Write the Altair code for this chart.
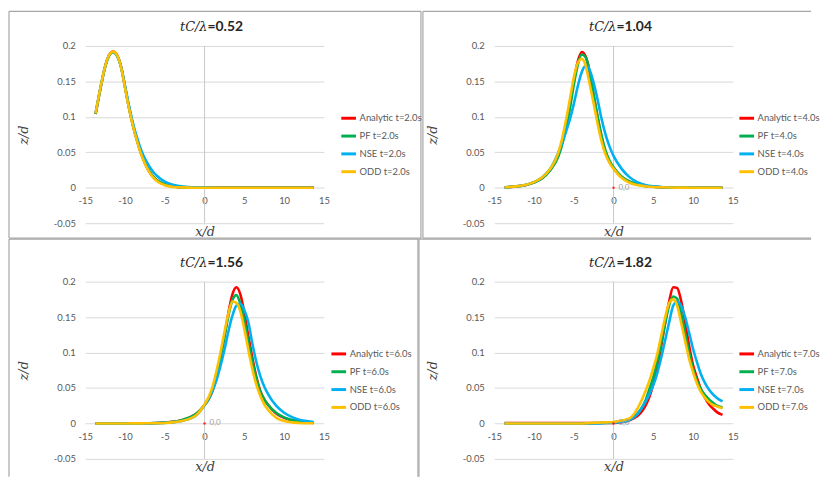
import altair as alt
import pandas as pd

# ---------------- data ----------------
series_names = ["Analytic", "PF", "NSE", "ODD"]
series_colors = ["#FF0000", "#00B050", "#00B0F0", "#FFC000"]
title_symbol = "tC/λ"
panel_ratio = ["=0.52", "=1.04", "=1.56", "=1.82"]
panel_time = ["2.0", "4.0", "6.0", "7.0"]
x_ticks = [-15, -10, -5, 0, 5, 10, 15]
y_ticks = [-0.05, 0, 0.05, 0.1, 0.15, 0.2]
origin_text = "0,0"
origin_shown = [False, True, True, True]

# panel 1 (t = 2.0 s)
x_p1 = [-13.7, -13.5, -13, -12.5, -12, -11.5, -11, -10.5, -10, -9.5, -9, -8.5, -8, -7.5, -7,
        -6.5, -6, -5, -4, -3, -2, -1, 0, 2, 4, 6, 8, 10, 12, 13.7]
an_p1 = [0.104, 0.116, 0.145, 0.171, 0.187, 0.192, 0.187, 0.171, 0.142, 0.113, 0.088, 0.067, 0.049, 0.035, 0.024,
         0.016, 0.0105, 0.0045, 0.0018, 0.0008, 0.0004, 0.0002, 0.0001, 0.0005, 0.0005, 0.0005, 0.0005, 0.0005, 0.0005, 0.0005]
pf_p1 = [0.104, 0.116, 0.145, 0.170, 0.186, 0.191, 0.186, 0.170, 0.142, 0.113, 0.088, 0.067, 0.049, 0.035, 0.024,
         0.016, 0.0105, 0.0045, 0.0018, 0.0008, 0.0004, 0.0002, 0.0001, 0, 0, 0, 0, 0, 0, 0]
nse_p1 = [0.105, 0.117, 0.146, 0.171, 0.187, 0.191, 0.186, 0.171, 0.144, 0.116, 0.091, 0.071, 0.054, 0.041, 0.031,
          0.023, 0.017, 0.0085, 0.0042, 0.002, 0.001, 0.0005, 0.0002, 0.0001, 0, 0, 0, 0, 0, 0]
odd_p1 = [0.105, 0.117, 0.146, 0.171, 0.187, 0.192, 0.187, 0.170, 0.141, 0.112, 0.087, 0.066, 0.048, 0.034, 0.023,
          0.015, 0.0095, 0.0035, 0.0012, 0.0005, 0.0002, 0.0001, 0, 0, 0, 0, 0, 0, 0, 0]

# panel 2 (t = 4.0 s)
x_p2 = [-13.7, -12, -11, -10, -9, -8, -7, -6.5, -6, -5.5, -5, -4.5, -4, -3.5, -3, -2.5, -2, -1.5, -1, -0.5,
        0, 1, 2, 3, 4, 5, 6, 8, 10, 12, 13.7]
an_p2 = [0.0007, 0.0021, 0.004, 0.0075, 0.0135, 0.0248, 0.044, 0.062, 0.087, 0.116, 0.150, 0.178, 0.1915, 0.185,
         0.163, 0.130, 0.099, 0.071, 0.050, 0.036, 0.0276, 0.015, 0.0084, 0.0046, 0.0024, 0.0013, 0.0007, 0.0002,
         0.0001, 0, 0]
pf_p2 = [0.0007, 0.002, 0.0039, 0.0073, 0.013, 0.024, 0.0425, 0.059, 0.083, 0.111, 0.145, 0.173, 0.188, 0.184,
         0.164, 0.131, 0.100, 0.073, 0.052, 0.038, 0.029, 0.016, 0.009, 0.005, 0.0026, 0.0014, 0.0008, 0.0002,
         0.0001, 0, 0]
nse_p2 = [0.0008, 0.0023, 0.0044, 0.008, 0.0143, 0.026, 0.048, 0.062, 0.078, 0.096, 0.118, 0.143, 0.163, 0.172,
          0.166, 0.148, 0.124, 0.097, 0.075, 0.058, 0.045, 0.027, 0.015, 0.008, 0.004, 0.002, 0.001, 0.0003,
          0.0001, 0, 0]
odd_p2 = [0.0008, 0.0023, 0.0044, 0.008, 0.0143, 0.026, 0.0475, 0.0675, 0.094, 0.124, 0.155, 0.176, 0.182, 0.172,
          0.146, 0.119, 0.090, 0.065, 0.047, 0.035, 0.027, 0.014, 0.0071, 0.0038, 0.002, 0.001, 0.0006, 0.0002,
          0.0001, 0, 0]

# panel 3 (t = 6.0 s)
x_p3 = [-13.7, -12, -10, -8, -6, -5, -4, -3, -2, -1, 0, 0.5, 1, 1.5, 2, 2.5, 3, 3.5, 4, 4.5, 5, 5.5, 6, 6.5,
        7, 7.5, 8, 9, 10, 11, 12, 13, 13.7]
an_p3 = [0, 0, 0.0001, 0.0002, 0.0006, 0.0012, 0.0022, 0.0042, 0.0078, 0.014, 0.026, 0.034, 0.046, 0.066, 0.093,
         0.123, 0.156, 0.182, 0.192, 0.182, 0.156, 0.123, 0.093, 0.066, 0.046, 0.034, 0.026, 0.014, 0.0078,
         0.0042, 0.0022, 0.0012, 0.0008]
pf_p3 = [0, 0, 0.0001, 0.0002, 0.0006, 0.0012, 0.0023, 0.0043, 0.008, 0.014, 0.026, 0.034, 0.047, 0.067, 0.094,
         0.123, 0.152, 0.174, 0.181, 0.169, 0.145, 0.115, 0.088, 0.064, 0.045, 0.034, 0.026, 0.015, 0.0085,
         0.0047, 0.0026, 0.0015, 0.001]
nse_p3 = [0, 0, 0, 0.0001, 0.0004, 0.0008, 0.0015, 0.003, 0.006, 0.012, 0.026, 0.035, 0.046, 0.061, 0.081,
          0.104, 0.130, 0.152, 0.166, 0.169, 0.160, 0.143, 0.113, 0.087, 0.067, 0.052, 0.041, 0.025, 0.015,
          0.009, 0.005, 0.003, 0.002]
odd_p3 = [0, 0, 0, 0.0001, 0.0003, 0.0007, 0.0015, 0.003, 0.006, 0.012, 0.027, 0.037, 0.052, 0.074, 0.100,
          0.129, 0.155, 0.172, 0.170, 0.158, 0.133, 0.104, 0.077, 0.055, 0.039, 0.027, 0.019, 0.008, 0.0035,
          0.0015, 0.0007, 0.0003, 0.0002]

# panel 4 (t = 7.0 s)
x_p4 = [-13.7, -12, -10, -8, -6, -4, -3, -2, -1, 0, 1, 2, 3, 3.5, 4, 4.5, 5, 5.5, 6, 6.5, 7, 7.5, 8, 8.5, 9,
        9.5, 10, 10.5, 11, 11.5, 12, 12.5, 13, 13.7]
an_p4 = [0.0005, 0.0005, 0.0005, 0.0005, 0.0005, 0.0005, 0.0005, 0.0005, 0.0005, 0.0007, 0.0018, 0.0043, 0.0104,
         0.0161, 0.0247, 0.0371, 0.0553, 0.0796, 0.1096, 0.1428, 0.1726, 0.192, 0.191, 0.1726, 0.1428, 0.1096,
         0.082, 0.064, 0.048, 0.036, 0.027, 0.021, 0.016, 0.012]
pf_p4 = [0, 0, 0, 0, 0, 0, 0.0003, 0.0006, 0.001, 0.0015, 0.003, 0.006, 0.014, 0.021, 0.032, 0.048, 0.065, 0.087,
         0.113, 0.142, 0.167, 0.179, 0.176, 0.155, 0.127, 0.100, 0.077, 0.060, 0.048, 0.040, 0.034, 0.029, 0.025,
         0.0225]
nse_p4 = [0, 0, 0, 0, 0, 0, 0, 0, 0.0005, 0.001, 0.002, 0.005, 0.013, 0.021, 0.030, 0.041, 0.054, 0.071, 0.093,
          0.118, 0.143, 0.166, 0.172, 0.166, 0.150, 0.128, 0.105, 0.086, 0.069, 0.057, 0.048, 0.041, 0.036, 0.031]
odd_p4 = [0, 0, 0, 0, 0, 0, 0.0005, 0.001, 0.0015, 0.002, 0.004, 0.007, 0.021, 0.032, 0.045, 0.060, 0.078, 0.098,
          0.124, 0.150, 0.170, 0.175, 0.166, 0.142, 0.116, 0.091, 0.072, 0.056, 0.044, 0.036, 0.030, 0.026, 0.024,
          0.0215]

panel_x = [x_p1, x_p2, x_p3, x_p4]
panel_y = [
    [an_p1, pf_p1, nse_p1, odd_p1],
    [an_p2, pf_p2, nse_p2, odd_p2],
    [an_p3, pf_p3, nse_p3, odd_p3],
    [an_p4, pf_p4, nse_p4, odd_p4],
]

# ---------------- layout (pixels, relative to each plot area) ----------------
W, H = 241, 179
legend_dx = [16, 5, 6, 5]
# panel frame edges: (x1, y1, x2, y2) segments
frame_segments = [
    [(-77, -35, 339, -35), (-77, -35, -77, 194), (339, -35, 339, 194), (-77, 194, 339, 194)],
    [(-72, -35, 320, -35), (-72, -35, -72, 194), (-72, 194, 320, 194)],
    [(-77, -43, 336, -43), (-77, -43, -77, 197), (336, -43, 336, 197)],
    [(-76, -43, 320, -43), (-76, -43, -76, 197)],
]
SANS = "Lato"
SERIF = "DejaVu Serif"
GRID = "#d9d9d9"
TEXT = "#595959"
FRAME = "#a6a6a6"
HYPHEN_LABEL = "replace(format(datum.value, '.2~f'), '\u2212', '-')"


def make_panel(i):
    t = panel_time[i]
    labels = [f"{s} t={t}s" for s in series_names]
    rows = []
    for lab, vals in zip(labels, panel_y[i]):
        for xv, yv in zip(panel_x[i], vals):
            rows.append({"x": xv, "y": yv, "series": lab})
    df = pd.DataFrame(rows)

    xscale = alt.Scale(domain=[-15, 15], nice=False, zero=False)
    yscale = alt.Scale(domain=[-0.05, 0.2], nice=False, zero=False)
    lift = H * 0.05 / 0.25  # distance of y=0 above the plot bottom

    xaxis = alt.Axis(values=x_ticks, grid=False, domain=False, ticks=False, offset=-lift,
                     labelPadding=8, labelFlush=False, labelOverlap=False, labelExpr=HYPHEN_LABEL,
                     title="x/d", titleFont=SERIF, titleFontStyle="italic", titleFontWeight="normal",
                     titleFontSize=13, titleColor="#404040", titleY=lift + 8, titleBaseline="middle")
    yaxis = alt.Axis(values=y_ticks, grid=True, domain=False, ticks=False, labelPadding=10,
                     labelExpr=HYPHEN_LABEL,
                     title="z/d", titleFont=SERIF, titleFontStyle="italic", titleFontWeight="normal",
                     titleFontSize=13, titleColor="#404040", titleX=-62, titleY=H / 2,
                     titleAngle=270, titleAlign="center", titleBaseline="middle")

    X = alt.X("x:Q", scale=xscale, axis=xaxis)
    Y = alt.Y("y:Q", scale=yscale, axis=yaxis)
    color = alt.Color(
        "series:N",
        scale=alt.Scale(domain=labels, range=series_colors),
        legend=alt.Legend(title=None, orient="none", legendX=W + legend_dx[i], legendY=64,
                          symbolType="stroke", symbolSize=220, symbolStrokeWidth=3,
                          labelFont=SANS, labelFontSize=9.5, labelColor=TEXT, rowPadding=3,
                          labelOffset=2),
    )

    layers = []
    fdf = pd.DataFrame({"f": [1]})
    for (a, b, c, d) in frame_segments[i]:
        layers.append(alt.Chart(fdf).mark_rule(color=FRAME, strokeWidth=1.2)
                      .encode(x=alt.value(a), y=alt.value(b), x2=alt.value(c), y2=alt.value(d)))

    zero_rule = alt.Chart(pd.DataFrame({"x": [0]})).mark_rule(color="#c8c8c8", strokeWidth=1).encode(
        x=alt.X("x:Q", scale=xscale, axis=xaxis))
    layers.append(zero_rule)

    for lab in labels:
        layers.append(
            alt.Chart(df).transform_filter(alt.datum.series == lab)
            .mark_line(interpolate="monotone", strokeWidth=2.6)
            .encode(x=X, y=Y, color=color)
        )

    if origin_shown[i]:
        odf = pd.DataFrame({"x": [0], "y": [0], "t": [origin_text]})
        layers.append(alt.Chart(odf).mark_point(shape="circle", filled=True, size=6, color="#FF0000", opacity=0.8)
                      .encode(x=X, y=Y))
        layers.append(alt.Chart(odf).mark_text(align="left", baseline="middle", dx=5, fontSize=8,
                                               font=SANS, color="#a0a0a0")
                      .encode(x=X, y=Y, text="t:N"))

    tdf = pd.DataFrame({"a": [title_symbol], "b": [panel_ratio[i]]})
    layers.append(alt.Chart(tdf).mark_text(align="right", baseline="middle", font=SERIF, fontStyle="italic",
                                           fontSize=13, color="#262626")
                  .encode(x=alt.value(W / 2 + 3), y=alt.value(-19), text="a:N"))
    layers.append(alt.Chart(tdf).mark_text(align="left", baseline="middle", font=SANS, fontWeight="bold",
                                           fontSize=14, color="#262626")
                  .encode(x=alt.value(W / 2 + 3), y=alt.value(-19), text="b:N"))

    return alt.layer(*layers).properties(width=W, height=H)


panels = [make_panel(i) for i in range(4)]

chart = (
    alt.concat(*panels, columns=2, spacing={"row": 59, "column": 172}, bounds="flush")
    .resolve_scale(color="independent")
    .resolve_legend(color="independent")
    .properties(padding={"left": 0, "top": 0, "right": 0, "bottom": 0})
    .configure_view(stroke=None)
    .configure_axis(labelFont=SANS, labelFontSize=9.5, labelColor=TEXT, gridColor=GRID, gridWidth=1)
)

chart.save("out.html", embed_options={"renderer": "svg", "actions": False})
